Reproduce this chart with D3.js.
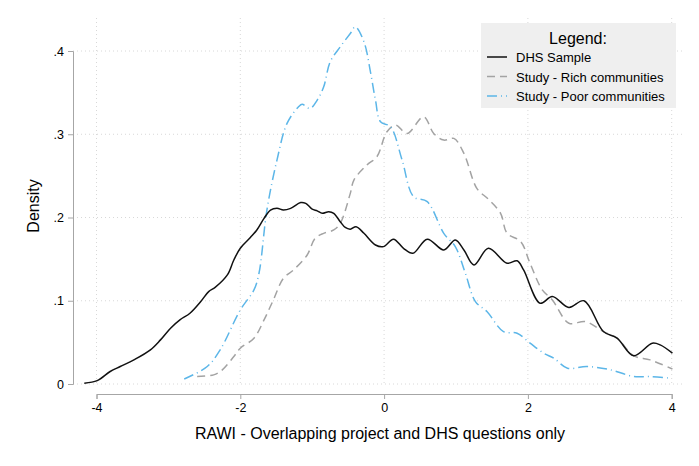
<!DOCTYPE html>
<html lang="en">
<head>
  <meta charset="utf-8">
  <title>Density</title>
  <script src="https://d3js.org/d3.v7.min.js"></script>
  <style>
  body { margin: 0; background: #fff; }
  text { font-family: "Liberation Sans", Arial, sans-serif; fill: #000; }
  .grid line { stroke: #d8d8d8; stroke-dasharray: 1,3; }
  </style>
</head>
<body>
<script>
var width = 699, height = 466;

// series: [x, density]
var dhs = [[-4.17,0.001],[-3.99,0.004],[-3.81,0.015],[-3.67,0.021],[-3.48,0.029],[-3.25,0.041],
  [-3.11,0.053],[-2.97,0.067],[-2.84,0.077],[-2.70,0.085],[-2.55,0.099],[-2.44,0.111],[-2.35,0.116],
  [-2.18,0.131],[-2.09,0.149],[-2.00,0.163],[-1.86,0.176],[-1.77,0.185],[-1.67,0.199],[-1.58,0.209],
  [-1.49,0.211],[-1.40,0.209],[-1.30,0.211],[-1.16,0.218],[-1.09,0.217],[-1.00,0.210],[-0.93,0.208],
  [-0.86,0.205],[-0.77,0.207],[-0.70,0.205],[-0.61,0.195],[-0.54,0.188],[-0.47,0.186],[-0.39,0.189],
  [-0.28,0.181],[-0.12,0.167],[-0.01,0.165],[0.13,0.174],[0.27,0.163],[0.40,0.157],[0.60,0.174],
  [0.83,0.161],[0.99,0.173],[1.11,0.161],[1.25,0.143],[1.45,0.163],[1.71,0.145],[1.85,0.148],
  [1.94,0.137],[2.17,0.097],[2.34,0.105],[2.57,0.092],[2.78,0.100],[3.05,0.063],[3.24,0.055],
  [3.47,0.034],[3.73,0.049],[3.84,0.047],[4.01,0.037]];

var rich = [[-2.60,0.009],[-2.37,0.011],[-2.25,0.017],[-2.09,0.033],[-2.00,0.043],[-1.81,0.055],
  [-1.67,0.077],[-1.54,0.101],[-1.40,0.127],[-1.26,0.137],[-1.07,0.155],[-0.96,0.175],[-0.84,0.181],
  [-0.70,0.185],[-0.61,0.193],[-0.47,0.229],[-0.42,0.245],[-0.24,0.263],[-0.10,0.273],[0.04,0.303],
  [0.16,0.311],[0.32,0.301],[0.55,0.321],[0.69,0.301],[0.83,0.293],[0.97,0.295],[1.11,0.277],
  [1.29,0.235],[1.45,0.222],[1.62,0.205],[1.71,0.181],[1.90,0.171],[2.03,0.145],[2.20,0.113],
  [2.34,0.101],[2.57,0.073],[2.80,0.075],[3.05,0.063],[3.24,0.055],[3.47,0.034],[3.70,0.029],
  [4.01,0.018]];

var poor = [[-2.78,0.006],[-2.46,0.021],[-2.28,0.041],[-2.00,0.089],[-1.81,0.113],[-1.74,0.133],
  [-1.63,0.209],[-1.49,0.269],[-1.35,0.313],[-1.19,0.333],[-1.14,0.336],[-1.03,0.331],[-0.93,0.341],
  [-0.84,0.357],[-0.75,0.387],[-0.61,0.405],[-0.47,0.421],[-0.40,0.429],[-0.28,0.411],[-0.19,0.375],
  [-0.12,0.341],[-0.05,0.315],[0.09,0.309],[0.25,0.269],[0.41,0.225],[0.60,0.219],[0.83,0.181],
  [0.99,0.165],[1.13,0.133],[1.27,0.099],[1.43,0.087],[1.66,0.063],[1.85,0.061],[2.03,0.049],
  [2.22,0.037],[2.36,0.031],[2.55,0.019],[2.82,0.021],[3.15,0.017],[3.47,0.009],[3.70,0.009],
  [3.98,0.007]];

var xTicks = [-4, -2, 0, 2, 4];
var yTicks = [0, 0.1, 0.2, 0.3, 0.4];
var yTickLabels = ["0", ".1", ".2", ".3", ".4"];
var seriesNames = ["DHS Sample", "Study - Rich communities", "Study - Poor communities"];

var svg = d3.select("body").append("svg")
  .attr("width", width)
  .attr("height", height);

var x = d3.scaleLinear().domain([-4, 4]).range([96.5, 671.7]);
var y = d3.scaleLinear().domain([0, 0.4]).range([384, 51]);

// grid
var grid = svg.append("g").attr("class", "grid");
grid.selectAll(".h").data(yTicks).enter().append("line")
  .attr("x1", 73).attr("x2", 682)
  .attr("y1", d => y(d)).attr("y2", d => y(d));
grid.selectAll(".v").data(xTicks).enter().append("line")
  .attr("x1", d => x(d)).attr("x2", d => x(d))
  .attr("y1", 18).attr("y2", 384);

// axes
var yAxis = svg.append("g").attr("transform", "translate(73,0)")
  .call(d3.axisLeft(y).tickValues(yTicks).tickFormat((d, i) => yTickLabels[i]).tickSize(5).tickPadding(4));
var xAxis = svg.append("g").attr("transform", "translate(0,394)")
  .call(d3.axisBottom(x).tickValues(xTicks).tickFormat(d3.format("d")).tickSize(5).tickPadding(4));
[yAxis, xAxis].forEach(function(a) {
  a.selectAll("path, line").attr("stroke", "#a6a6a6");
  a.selectAll("text").style("font-size", "12.5px").attr("fill", "#000");
});
xAxis.selectAll("text").text(d => d < 0 ? "-" + Math.abs(d) : d);

svg.append("text").attr("x", 380).attr("y", 439).attr("text-anchor", "middle")
  .style("font-size", "16px").text("RAWI - Overlapping project and DHS questions only");
svg.append("text").attr("transform", "translate(39,206) rotate(-90)").attr("text-anchor", "middle")
  .style("font-size", "16px").text("Density");

// lines
var line = d3.line().x(d => x(d[0])).y(d => y(d[1])).curve(d3.curveCatmullRom);
var styles = [
  {data: dhs, color: "#111", dash: null},
  {data: rich, color: "#a3a3a3", dash: "8,5"},
  {data: poor, color: "#5cb6e8", dash: "10,4,1,4"}
];
svg.append("g").selectAll("path").data([styles[1], styles[2], styles[0]]).enter().append("path")
  .attr("d", d => line(d.data))
  .attr("fill", "none")
  .attr("stroke", d => d.color)
  .attr("stroke-width", 1.5)
  .attr("stroke-dasharray", d => d.dash);

// legend
var legend = svg.append("g");
legend.append("rect").attr("x", 481).attr("y", 23).attr("width", 195).attr("height", 85).attr("fill", "#efefef");
legend.append("text").attr("x", 578).attr("y", 44).attr("text-anchor", "middle")
  .style("font-size", "16px").text("Legend:");
var rows = legend.selectAll(".row").data(styles).enter().append("g")
  .attr("transform", (d, i) => "translate(0," + (57 + i * 19.5) + ")");
rows.append("line").attr("x1", 487).attr("x2", 507)
  .attr("stroke", d => d.color).attr("stroke-width", 1.5).attr("stroke-dasharray", d => d.dash);
rows.append("text").attr("x", 516).attr("y", 5).style("font-size", "13px")
  .text((d, i) => seriesNames[i]);
</script>
</body>
</html>
